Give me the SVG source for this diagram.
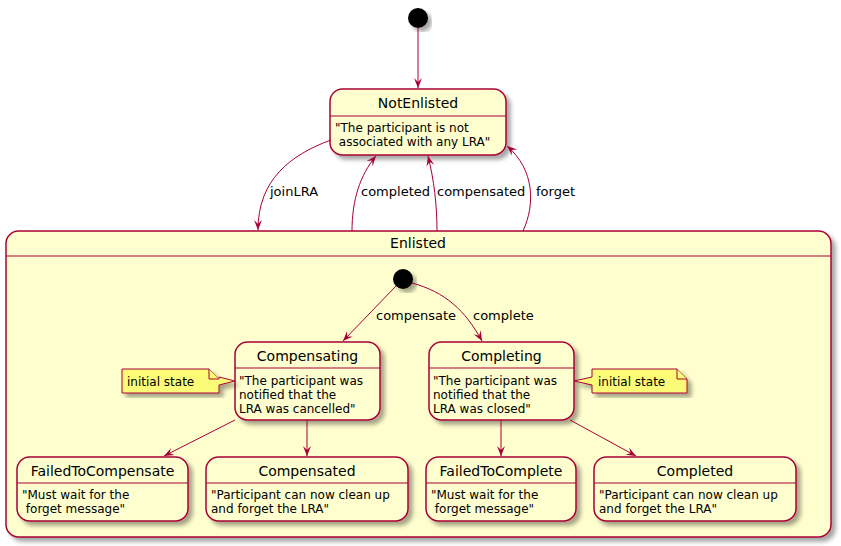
<svg xmlns="http://www.w3.org/2000/svg" width="841" height="546" viewBox="0 0 841 546" xml:space="preserve">
<defs>
<filter id="sh" x="-10%" y="-10%" width="130%" height="130%">
<feGaussianBlur in="SourceAlpha" stdDeviation="2"/>
<feOffset dx="4" dy="4" result="b"/>
<feComponentTransfer><feFuncA type="linear" slope="0.35"/></feComponentTransfer>
<feMerge><feMergeNode/><feMergeNode in="SourceGraphic"/></feMerge>
</filter>
<marker id="ah" viewBox="0 0 10 10" refX="10" refY="5" markerWidth="10" markerHeight="10" markerUnits="userSpaceOnUse" orient="auto">
<path d="M0,1 L10,5 L0,9 L4,5 Z" fill="#A80036"/>
</marker>
</defs>
<style>
.st{fill:#FEFECE;stroke:#A80036;stroke-width:1.5}
.ln{stroke:#A80036;stroke-width:1}
.note{fill:#FBFB77;stroke:#A80036;stroke-width:1}
.e{fill:none;stroke:#A80036;stroke-width:1;marker-end:url(#ah)}
text{white-space:pre}
.t{font-family:"DejaVu Sans",sans-serif;font-size:14px;fill:#000;text-anchor:middle}
.d{font-family:"DejaVu Sans",sans-serif;font-size:12px;fill:#000}
.l{font-family:"DejaVu Sans",sans-serif;font-size:13px;fill:#000}
</style>
<rect width="841" height="546" fill="#FFFFFF"/>
<g id="start"><circle cx="418" cy="18" r="10" fill="#000" filter="url(#sh)"/></g>
<g id="NotEnlisted">
<rect class="st" x="330" y="89" width="176" height="66" rx="12.5" filter="url(#sh)"/>
<line class="ln" x1="330" y1="116" x2="506" y2="116"/>
<text class="t" x="418" y="108">NotEnlisted</text>
<text class="d" x="335" y="132">"The participant is not</text>
<text class="d" x="335" y="146"> associated with any LRA"</text>
</g>
<g id="Enlisted">
<rect class="st" x="6" y="231" width="825" height="306" rx="12.5" filter="url(#sh)"/>
<line class="ln" x1="6" y1="256" x2="831" y2="256"/>
<text class="t" x="418" y="248">Enlisted</text>
</g>
<g id="innerStart"><circle cx="403" cy="279" r="10" fill="#000" filter="url(#sh)"/></g>
<g id="Compensating">
<rect class="st" x="235" y="342" width="145" height="78" rx="12.5" filter="url(#sh)"/>
<line class="ln" x1="235" y1="368" x2="380" y2="368"/>
<text class="t" x="307.5" y="361">Compensating</text>
<text class="d" x="239" y="385">"The participant was</text>
<text class="d" x="239" y="399">notified that the</text>
<text class="d" x="239" y="413">LRA was cancelled"</text>
</g>
<g id="Completing">
<rect class="st" x="429" y="342" width="145" height="78" rx="12.5" filter="url(#sh)"/>
<line class="ln" x1="429" y1="368" x2="574" y2="368"/>
<text class="t" x="501.5" y="361">Completing</text>
<text class="d" x="433" y="385">"The participant was</text>
<text class="d" x="433" y="399">notified that the</text>
<text class="d" x="433" y="413">LRA was closed"</text>
</g>
<g id="noteCompensating">
<path class="note" d="M122,369 L209,369 L219,379 L219,377 L235,381 L219,385 L219,393 L122,393 Z" filter="url(#sh)"/>
<path class="note" d="M209,369 L209,379 L219,379"/>
<text class="d" x="127" y="386">initial state</text>
</g>
<g id="noteCompleting">
<path class="note" d="M592,369 L677,369 L687,379 L687,393 L592,393 L592,385 L574,381 L592,377 Z" filter="url(#sh)"/>
<path class="note" d="M677,369 L677,379 L687,379"/>
<text class="d" x="598" y="386">initial state</text>
</g>
<g id="FailedToCompensate">
<rect class="st" x="17" y="457" width="171" height="64" rx="12.5" filter="url(#sh)"/>
<line class="ln" x1="17" y1="483" x2="188" y2="483"/>
<text class="t" x="102.5" y="476">FailedToCompensate</text>
<text class="d" x="22" y="499">"Must wait for the</text>
<text class="d" x="22" y="513"> forget message"</text>
</g>
<g id="Compensated">
<rect class="st" x="206" y="457" width="202" height="64" rx="12.5" filter="url(#sh)"/>
<line class="ln" x1="206" y1="483" x2="408" y2="483"/>
<text class="t" x="307" y="476">Compensated</text>
<text class="d" x="211" y="499">"Participant can now clean up</text>
<text class="d" x="211" y="513">and forget the LRA"</text>
</g>
<g id="FailedToComplete">
<rect class="st" x="426" y="457" width="150" height="64" rx="12.5" filter="url(#sh)"/>
<line class="ln" x1="426" y1="483" x2="576" y2="483"/>
<text class="t" x="501" y="476">FailedToComplete</text>
<text class="d" x="431" y="499">"Must wait for the</text>
<text class="d" x="431" y="513"> forget message"</text>
</g>
<g id="Completed">
<rect class="st" x="594" y="457" width="202" height="64" rx="12.5" filter="url(#sh)"/>
<line class="ln" x1="594" y1="483" x2="796" y2="483"/>
<text class="t" x="695" y="476">Completed</text>
<text class="d" x="599" y="499">"Participant can now clean up</text>
<text class="d" x="599" y="513">and forget the LRA"</text>
</g>
<g id="connectors">
<path class="e" d="M418,28 L418,88"/>
<path class="e" d="M331,140 C290,155 258,180 258,230"/>
<text class="l" x="270" y="196">joinLRA</text>
<path class="e" d="M352,231 C352,200 360,175 376,156"/>
<text class="l" x="361" y="196">completed</text>
<path class="e" d="M437,231 C437,205 434,180 428,156"/>
<text class="l" x="437" y="196">compensated</text>
<path class="e" d="M523,231 C535,205 535,170 507,146"/>
<text class="l" x="536" y="196">forget</text>
<path class="e" d="M396,286 L343,341"/>
<text class="l" x="376" y="320">compensate</text>
<path class="e" d="M412,283 C445,292 465,310 482,341"/>
<text class="l" x="473" y="320">complete</text>
<path class="e" d="M235,420 L164,456"/>
<path class="e" d="M307,420 L307,456"/>
<path class="e" d="M501,420 L501,456"/>
<path class="e" d="M570,420 L636,456"/>
</g>
</svg>
